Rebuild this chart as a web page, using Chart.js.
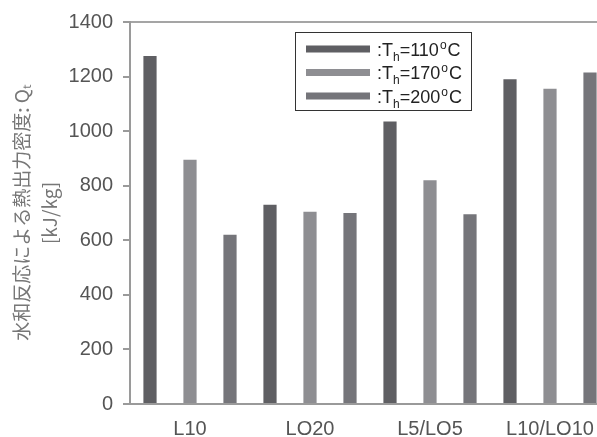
<!DOCTYPE html>
<html lang="ja">

<head>
    <meta charset="UTF-8">
    <title>水和反応による熱出力密度</title>
    <script src="https://cdn.jsdelivr.net/npm/chart.js@4.4.0/dist/chart.umd.min.js"></script>
    <style>
        html, body {
            margin: 0;
            padding: 0;
            background: #fff;
            overflow: hidden;
        }
        .graph-container {
            width: 620px;
            height: 437px;
        }
    </style>
</head>

<body>
    <div class="graph-container">
        <canvas id="myChart" width="620" height="437"></canvas>
    </div>

    <script>
        // データ
        const categories = ['L10', 'LO20', 'L5/LO5', 'L10/LO10'];
        const temps = ['110', '170', '200'];
        const q110 = [1275, 730, 1035, 1190];
        const q170 = [895, 705, 820, 1155];
        const q200 = [620, 700, 695, 1215];
        const yTicks = [0, 200, 400, 600, 800, 1000, 1200, 1400];

        const barColors = ['#5f5f63', '#8e8e92', '#75757a'];
        const font = '"Liberation Sans", Arial, sans-serif';

        // 凡例 (T_h の下付き文字を描くため自前で描画)
        const legendBox = {
            id: 'legendBox',
            afterDraw(chart) {
                const c = chart.ctx;
                c.save();
                c.strokeStyle = '#333';
                c.lineWidth = 1;
                c.strokeRect(295.5, 32.5, 176, 78);
                const rows = [49, 72.5, 96];
                chart.data.datasets.forEach((ds, i) => {
                    const y = rows[i];
                    c.fillStyle = ds.backgroundColor;
                    c.fillRect(306, y - 3.5, 64, 7);
                    c.fillStyle = '#222';
                    c.textBaseline = 'alphabetic';
                    c.textAlign = 'left';
                    let x = 377;
                    const base = y + 6.5;
                    c.font = '18px ' + font;
                    c.fillText(':T', x, base);
                    x += c.measureText(':T').width;
                    c.font = '12px ' + font;
                    c.fillText('h', x, base + 5);
                    x += c.measureText('h').width;
                    c.font = '18px ' + font;
                    const t = '=' + temps[i];
                    c.fillText(t, x, base);
                    x += c.measureText(t).width + 1;
                    c.font = '12px ' + font;
                    c.fillText('o', x, base - 7);
                    x += c.measureText('o').width + 1;
                    c.font = '18px ' + font;
                    c.fillText('C', x, base);
                });
                c.restore();
            }
        };

        const ctx = document.getElementById('myChart').getContext('2d');
        const chart = new Chart(ctx, {
            type: 'bar',
            data: {
                labels: categories,
                datasets: [
                    { label: 'Th=110', data: q110, backgroundColor: barColors[0] },
                    { label: 'Th=170', data: q170, backgroundColor: barColors[1] },
                    { label: 'Th=200', data: q200, backgroundColor: barColors[2] }
                ]
            },
            options: {
                responsive: false,
                animation: false,
                layout: {
                    padding: { top: 21, right: 10, bottom: 0, left: 0 }
                },
                datasets: {
                    bar: {
                        categoryPercentage: 1.0,
                        barPercentage: 0.33
                    }
                },
                plugins: {
                    legend: { display: false },
                    tooltip: { enabled: false }
                },
                scales: {
                    x: {
                        position: 'bottom',
                        grid: { display: false, drawTicks: false },
                        border: { color: '#9a9a9a', width: 2 },
                        ticks: {
                            color: '#555',
                            padding: 13,
                            font: { family: font, size: 20 }
                        },
                        afterFit(scale) { scale.height = 33; }
                    },
                    x2: {
                        position: 'top',
                        labels: categories,
                        grid: { display: false, drawTicks: false },
                        border: { color: '#a5a5a5', width: 2 },
                        ticks: { display: false },
                        afterFit(scale) { scale.height = 0; }
                    },
                    y: {
                        min: 0,
                        max: 1400,
                        afterBuildTicks(scale) {
                            scale.ticks = yTicks.map(v => ({ value: v }));
                        },
                        grid: {
                            drawOnChartArea: false,
                            tickLength: 7,
                            color: '#9a9a9a',
                            lineWidth: 2
                        },
                        border: { color: '#9a9a9a', width: 2 },
                        ticks: {
                            color: '#555',
                            padding: 10,
                            font: { family: font, size: 20 },
                            callback: v => String(v)
                        },
                        title: {
                            display: true,
                            text: ['水和反応による熱出力密度: Qₜ', '[kJ/kg]'],
                            color: '#777',
                            padding: { top: 8, bottom: 0 },
                            font: { family: '"Noto Sans CJK JP", ' + font, size: 19, lineHeight: 1.47 }
                        },
                        afterFit(scale) { scale.width = 130; }
                    }
                }
            },
            plugins: [legendBox]
        });
    </script>
</body>

</html>
